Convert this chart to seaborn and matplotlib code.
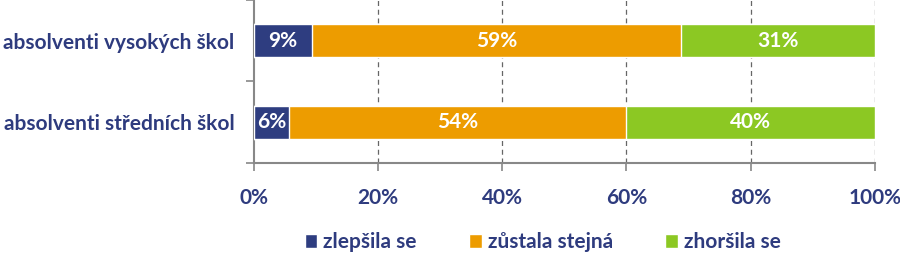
import matplotlib
matplotlib.use("Agg")
import matplotlib.pyplot as plt
import seaborn as sns
import pandas as pd
import numpy as np

categories = ["absolventi vysokých škol", "absolventi středních škol"]
series = ["zlepšila se", "zůstala stejná", "zhoršila se"]
improved = [9.4, 5.7]
same = [59.4, 54.3]
worse = [31.2, 40.0]
xticks = [0, 20, 40, 60, 80, 100]
xticklabels = ["0%", "20%", "40%", "60%", "80%", "100%"]

colors = ["#2E3D80", "#ED9C00", "#8CC823"]
navy = "#2E3B7E"

sns.set_theme(style="white")
plt.rcParams["font.family"] = ["Lato", "DejaVu Sans"]
plt.rcParams["font.weight"] = "bold"

vals = np.array([improved, same, worse])
cum = np.cumsum(vals, axis=0)

fig = plt.figure(figsize=(9, 2.62), dpi=100)
ax = fig.add_axes([0.282, 0.378, 0.690, 0.622])

for i in reversed(range(3)):
    df = pd.DataFrame({"cat": categories, "val": cum[i]})
    sns.barplot(data=df, y="cat", x="val", color=colors[i], width=0.4,
                orient="h", ax=ax, saturation=1, label=series[i], zorder=3)

for j in range(len(categories)):
    start = 0
    for i in range(3):
        v = vals[i][j]
        ax.text(start + v / 2, j, f"{round(v)}%", ha="center", va="center",
                color="white", fontsize=15, fontweight="bold", zorder=5)
        start += v

ax.set_xlim(0, 100)
ax.set_ylim(1.5, -0.5)
ax.set_xticks(xticks)
ax.set_xticklabels(xticklabels, fontsize=15, fontweight="bold", color=navy)
ax.set_yticks([0, 1])
ax.set_yticklabels(categories, fontsize=15, fontweight="bold", color=navy)
ax.set_yticks([-0.5, 0.5, 1.5], minor=True)
ax.tick_params(axis="y", which="major", length=0, pad=14)
ax.tick_params(axis="y", which="minor", length=6, color="#888888", width=1.2, left=True)
ax.tick_params(axis="x", length=6, color="#888888", width=1.2, bottom=True, pad=12)
ax.set_xlabel("")
ax.set_ylabel("")

for x in xticks[1:]:
    ax.axvline(x, color="#666666", linestyle=(0, (4, 3)), linewidth=0.9, zorder=1)

for s in ["top", "right"]:
    ax.spines[s].set_visible(False)
for s in ["left", "bottom"]:
    ax.spines[s].set_color("#888888")
    ax.spines[s].set_linewidth(1.5)

handles, labels = ax.get_legend_handles_labels()
order = [labels.index(s) for s in series]
leg = fig.legend([handles[k] for k in order], [labels[k] for k in order],
                 loc="center", bbox_to_anchor=(0.603, 0.075), ncol=3, frameon=False,
                 fontsize=15, handlelength=0.6, handleheight=0.6, handletextpad=0.3,
                 columnspacing=2.5)
for t in leg.get_texts():
    t.set_color(navy)
if ax.get_legend():
    ax.get_legend().remove()

fig.savefig("out.png", dpi=100)
